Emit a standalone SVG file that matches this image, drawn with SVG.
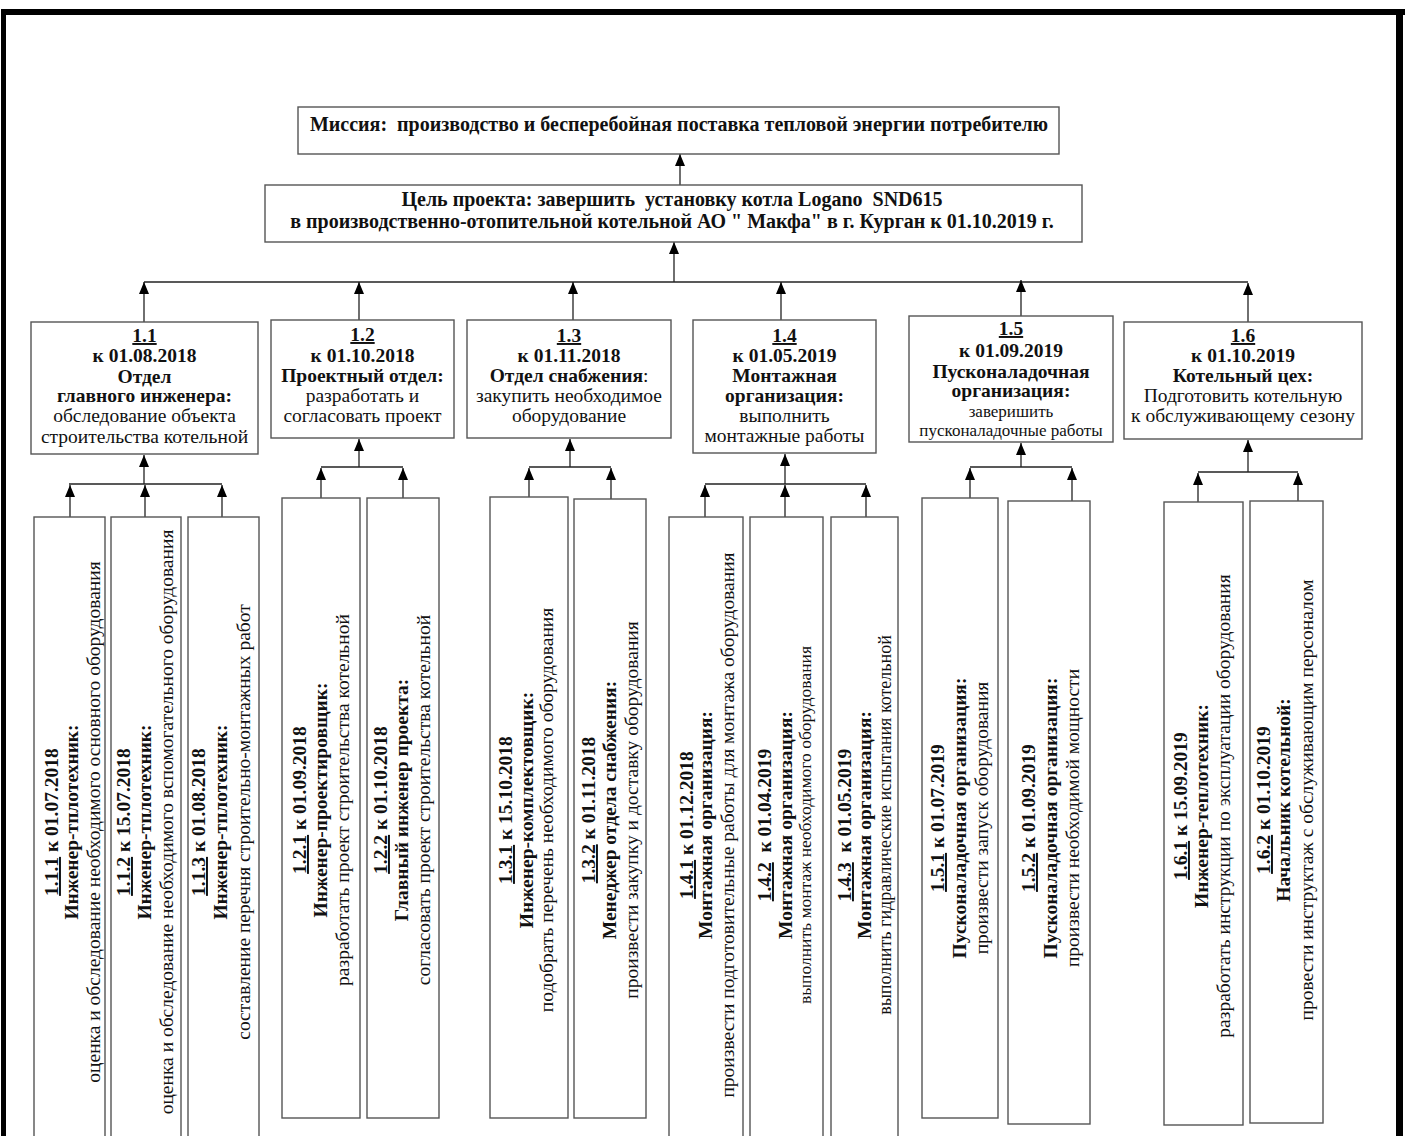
<svg xmlns="http://www.w3.org/2000/svg" width="1406" height="1136" viewBox="0 0 1406 1136">
<style>
.box{fill:#fff;stroke:#555;stroke-width:1.4}
.c line,.c path{stroke:#222;stroke-width:1.3;fill:none}
.b{font-family:"Liberation Serif","Times New Roman",serif;font-weight:bold;font-size:19.5px;fill:#111;text-anchor:middle;white-space:pre}
.r{font-family:"Liberation Serif","Times New Roman",serif;font-size:19.5px;fill:#111;text-anchor:middle;white-space:pre}
.r17{font-size:17px}
.r175{font-size:17.5px}
.r18{font-size:18px}
.h{font-family:"Liberation Serif","Times New Roman",serif;font-weight:bold;font-size:20px;fill:#111;text-anchor:middle;white-space:pre}
.u{text-decoration:underline}
</style>
<defs>
<marker id="ah" markerWidth="12" markerHeight="10" refX="12" refY="5" orient="auto" markerUnits="userSpaceOnUse"><path d="M0,0 L12,5 L0,10 z" fill="#000"/></marker>
</defs>
<rect width="1406" height="1136" fill="#fff"/>
<g id="frame" fill="#000">
<rect x="1" y="9" width="1404" height="6"/>
<rect x="1" y="9" width="5" height="1127"/>
<rect x="1396" y="9" width="7" height="1127"/>
</g>

<g id="connectors" class="c">
<line x1="680" y1="185" x2="680" y2="154" marker-end="url(#ah)"/>
<line x1="674" y1="282" x2="674" y2="242" marker-end="url(#ah)"/>
<line x1="144" y1="282" x2="1248" y2="282"/>
<line x1="144" y1="322" x2="144" y2="282" marker-end="url(#ah)"/>
<line x1="359" y1="320" x2="359" y2="282" marker-end="url(#ah)"/>
<line x1="573" y1="320" x2="573" y2="282" marker-end="url(#ah)"/>
<line x1="781" y1="320" x2="781" y2="282" marker-end="url(#ah)"/>
<line x1="1021" y1="316" x2="1021" y2="280" marker-end="url(#ah)"/>
<line x1="1248" y1="322" x2="1248" y2="283" marker-end="url(#ah)"/>
<!-- 1.1 -->
<line x1="144" y1="484" x2="144" y2="455" marker-end="url(#ah)"/>
<line x1="69" y1="484" x2="222" y2="484"/>
<line x1="70" y1="517" x2="70" y2="485" marker-end="url(#ah)"/>
<line x1="145" y1="517" x2="145" y2="485" marker-end="url(#ah)"/>
<line x1="222" y1="517" x2="222" y2="485" marker-end="url(#ah)"/>
<!-- 1.2 -->
<line x1="359" y1="467" x2="359" y2="439" marker-end="url(#ah)"/>
<line x1="321" y1="467" x2="403" y2="467"/>
<line x1="321" y1="498" x2="321" y2="468" marker-end="url(#ah)"/>
<line x1="403" y1="498" x2="403" y2="468" marker-end="url(#ah)"/>
<!-- 1.3 -->
<line x1="570" y1="467" x2="570" y2="439" marker-end="url(#ah)"/>
<line x1="529" y1="467" x2="611" y2="467"/>
<line x1="529" y1="497" x2="529" y2="468" marker-end="url(#ah)"/>
<line x1="611" y1="499" x2="611" y2="468" marker-end="url(#ah)"/>
<!-- 1.4 -->
<line x1="785" y1="484" x2="785" y2="454" marker-end="url(#ah)"/>
<line x1="705" y1="484" x2="866" y2="484"/>
<line x1="705" y1="517" x2="705" y2="485" marker-end="url(#ah)"/>
<line x1="785" y1="517" x2="785" y2="485" marker-end="url(#ah)"/>
<line x1="866" y1="517" x2="866" y2="485" marker-end="url(#ah)"/>
<!-- 1.5 -->
<line x1="1021" y1="467" x2="1021" y2="443" marker-end="url(#ah)"/>
<line x1="970" y1="467" x2="1072" y2="467"/>
<line x1="970" y1="498" x2="970" y2="468" marker-end="url(#ah)"/>
<line x1="1072" y1="501" x2="1072" y2="468" marker-end="url(#ah)"/>
<!-- 1.6 -->
<line x1="1248" y1="472" x2="1248" y2="440" marker-end="url(#ah)"/>
<line x1="1198" y1="472" x2="1298" y2="472"/>
<line x1="1198" y1="502" x2="1198" y2="473" marker-end="url(#ah)"/>
<line x1="1298" y1="501" x2="1298" y2="473" marker-end="url(#ah)"/>
</g>

<g id="mission">
<rect class="box" x="298" y="107" width="761" height="47"/>
<text class="h" x="679" y="131">Миссия:  производство и бесперебойная поставка тепловой энергии потребителю</text>
</g>
<g id="goal">
<rect class="box" x="265" y="185" width="817" height="57"/>
<text class="h" x="672" y="206">Цель проекта: завершить  установку котла Logano  SND615</text>
<text class="h" x="672" y="228">в производственно-отопительной котельной АО " Макфа" в г. Курган к 01.10.2019 г.</text>
</g>

<g id="n1_1">
<rect class="box" x="31" y="322" width="227" height="132"/>
<text class="b" x="144.5" y="342"><tspan class="u">1.1</tspan></text>
<text class="b" x="144.5" y="362">к 01.08.2018</text>
<text class="b" x="144.5" y="383">Отдел</text>
<text class="b" x="144.5" y="402">главного инженера:</text>
<text class="r" x="144.5" y="422">обследование объекта</text>
<text class="r" x="144.5" y="443">строительства котельной</text>
</g>
<g id="n1_2">
<rect class="box" x="271" y="320" width="183" height="118"/>
<text class="b" x="362.5" y="341"><tspan class="u">1.2</tspan></text>
<text class="b" x="362.5" y="362">к 01.10.2018</text>
<text class="b" x="362.5" y="382">Проектный отдел:</text>
<text class="r" x="362.5" y="402">разработать и</text>
<text class="r" x="362.5" y="422">согласовать проект</text>
</g>
<g id="n1_3">
<rect class="box" x="467" y="320" width="204" height="118"/>
<text class="b" x="569" y="342"><tspan class="u">1.3</tspan></text>
<text class="b" x="569" y="362">к 01.11.2018</text>
<text class="b" x="569" y="382">Отдел снабжения<tspan font-weight="normal">:</tspan></text>
<text class="r" x="569" y="402">закупить необходимое</text>
<text class="r" x="569" y="422">оборудование</text>
</g>
<g id="n1_4">
<rect class="box" x="693" y="320" width="183" height="133"/>
<text class="b" x="784.5" y="342"><tspan class="u">1.4</tspan></text>
<text class="b" x="784.5" y="362">к 01.05.2019</text>
<text class="b" x="784.5" y="382">Монтажная</text>
<text class="b" x="784.5" y="402">организация:</text>
<text class="r" x="784.5" y="422">выполнить</text>
<text class="r" x="784.5" y="442">монтажные работы</text>
</g>
<g id="n1_5">
<rect class="box" x="909" y="316" width="204" height="126"/>
<text class="b" x="1011" y="335"><tspan class="u">1.5</tspan></text>
<text class="b" x="1011" y="357">к 01.09.2019</text>
<text class="b" x="1011" y="378">Пусконаладочная</text>
<text class="b" x="1011" y="397">организация:</text>
<text class="r r17" x="1011" y="417">заверишить</text>
<text class="r r17" x="1011" y="436">пусконаладочные работы</text>
</g>
<g id="n1_6">
<rect class="box" x="1124" y="322" width="238" height="117"/>
<text class="b" x="1243" y="342"><tspan class="u">1.6</tspan></text>
<text class="b" x="1243" y="362">к 01.10.2019</text>
<text class="b" x="1243" y="382">Котельный цех:</text>
<text class="r" x="1243" y="402">Подготовить котельную</text>
<text class="r" x="1243" y="422">к обслуживающему сезону</text>
</g>

<!-- level 3 -->
<g id="n1_1_1">
<rect class="box" x="34" y="517" width="71" height="640"/>
<text class="b" transform="translate(58,822) rotate(-90)"><tspan class="u">1.1.1</tspan> к 01.07.2018</text>
<text class="b" transform="translate(78,822) rotate(-90)">Инженер-тплотехник:</text>
<text class="r" transform="translate(100,822) rotate(-90)">оценка и обследование необходимого основного оборудования</text>
</g>
<g id="n1_1_2">
<rect class="box" x="111" y="517" width="70" height="640"/>
<text class="b" transform="translate(130,822) rotate(-90)"><tspan class="u">1.1.2</tspan> к 15.07.2018</text>
<text class="b" transform="translate(151,822) rotate(-90)">Инженер-тплотехник:</text>
<text class="r" transform="translate(173,822) rotate(-90)">оценка и обследование необходимого вспомогательного оборудования</text>
</g>
<g id="n1_1_3">
<rect class="box" x="188" y="517" width="71" height="640"/>
<text class="b" transform="translate(205,822) rotate(-90)"><tspan class="u">1.1.3</tspan> к 01.08.2018</text>
<text class="b" transform="translate(227,822) rotate(-90)">Инженер-тплотехник:</text>
<text class="r" transform="translate(250,822) rotate(-90)">составление перечня строительно-монтажных работ</text>
</g>
<g id="n1_2_1">
<rect class="box" x="282" y="498" width="78" height="620"/>
<text class="b" transform="translate(306,800) rotate(-90)"><tspan class="u">1.2.1</tspan> к 01.09.2018</text>
<text class="b" transform="translate(327,800) rotate(-90)">Инженер-проектировщик:</text>
<text class="r" transform="translate(349,800) rotate(-90)">разработать проект строительства котельной</text>
</g>
<g id="n1_2_2">
<rect class="box" x="367" y="498" width="72" height="620"/>
<text class="b" transform="translate(387,800) rotate(-90)"><tspan class="u">1.2.2</tspan> к 01.10.2018</text>
<text class="b" transform="translate(408,800) rotate(-90)">Главный инженер проекта:</text>
<text class="r" transform="translate(430,800) rotate(-90)">согласовать проект строительства котельной</text>
</g>
<g id="n1_3_1">
<rect class="box" x="490" y="497" width="78" height="621"/>
<text class="b" transform="translate(512,810) rotate(-90)"><tspan class="u">1.3.1</tspan> к 15.10.2018</text>
<text class="b" transform="translate(533,810) rotate(-90)">Инженер-комплектовщик:</text>
<text class="r" transform="translate(553,810) rotate(-90)">подобрать перечень необходимого оборудования</text>
</g>
<g id="n1_3_2">
<rect class="box" x="574" y="499" width="72" height="619"/>
<text class="b" transform="translate(595,810) rotate(-90)"><tspan class="u">1.3.2</tspan> к 01.11.2018</text>
<text class="b" transform="translate(616,810) rotate(-90)">Менеджер отдела снабжения:</text>
<text class="r" transform="translate(638,810) rotate(-90)">произвести закупку и доставку оборудования</text>
</g>
<g id="n1_4_1">
<rect class="box" x="669" y="517" width="74" height="640"/>
<text class="b" transform="translate(693,825) rotate(-90)"><tspan class="u">1.4.1</tspan> к 01.12.2018</text>
<text class="b" transform="translate(712,825) rotate(-90)">Монтажная организация:</text>
<text class="r" transform="translate(734,825) rotate(-90)">произвести подготовительные работы для монтажа оборудования</text>
</g>
<g id="n1_4_2">
<rect class="box" x="750" y="517" width="73" height="640"/>
<text class="b" transform="translate(771,825) rotate(-90)"><tspan class="u">1.4.2</tspan>  к 01.04.2019</text>
<text class="b" transform="translate(792,825) rotate(-90)">Монтажная организация:</text>
<text class="r r175" transform="translate(811,825) rotate(-90)">выполнить монтаж необходимого оборудования</text>
</g>
<g id="n1_4_3">
<rect class="box" x="831" y="517" width="67" height="640"/>
<text class="b" transform="translate(851,825) rotate(-90)"><tspan class="u">1.4.3</tspan>  к 01.05.2019</text>
<text class="b" transform="translate(871,825) rotate(-90)">Монтажная организация:</text>
<text class="r r18" transform="translate(891,825) rotate(-90)">выполнить гидравлические испытания котельной</text>
</g>
<g id="n1_5_1">
<rect class="box" x="922" y="498" width="76" height="620"/>
<text class="b" transform="translate(944,818) rotate(-90)"><tspan class="u">1.5.1</tspan> к 01.07.2019</text>
<text class="b" transform="translate(966,818) rotate(-90)">Пусконаладочная организация:</text>
<text class="r" transform="translate(988,818) rotate(-90)">произвести запуск оборудования</text>
</g>
<g id="n1_5_2">
<rect class="box" x="1008" y="501" width="82" height="623"/>
<text class="b" transform="translate(1035,818) rotate(-90)"><tspan class="u">1.5.2</tspan> к 01.09.2019</text>
<text class="b" transform="translate(1057,818) rotate(-90)">Пусконаладочная организация:</text>
<text class="r" transform="translate(1079,818) rotate(-90)">произвести необходимой мощности</text>
</g>
<g id="n1_6_1">
<rect class="box" x="1164" y="502" width="79" height="623"/>
<text class="b" transform="translate(1187,806) rotate(-90)"><tspan class="u">1.6.1</tspan> к 15.09.2019</text>
<text class="b" transform="translate(1208,806) rotate(-90)">Инженер-теплотехник:</text>
<text class="r" transform="translate(1230,806) rotate(-90)">разработать инструкции по эксплуатации оборудования</text>
</g>
<g id="n1_6_2">
<rect class="box" x="1250" y="501" width="73" height="622"/>
<text class="b" transform="translate(1270,800) rotate(-90)"><tspan class="u">1.6.2</tspan> к 01.10.2019</text>
<text class="b" transform="translate(1290,800) rotate(-90)">Начальник котельной:</text>
<text class="r" transform="translate(1313,800) rotate(-90)">провести инструктаж с обслуживающим персоналом</text>
</g>
</svg>
